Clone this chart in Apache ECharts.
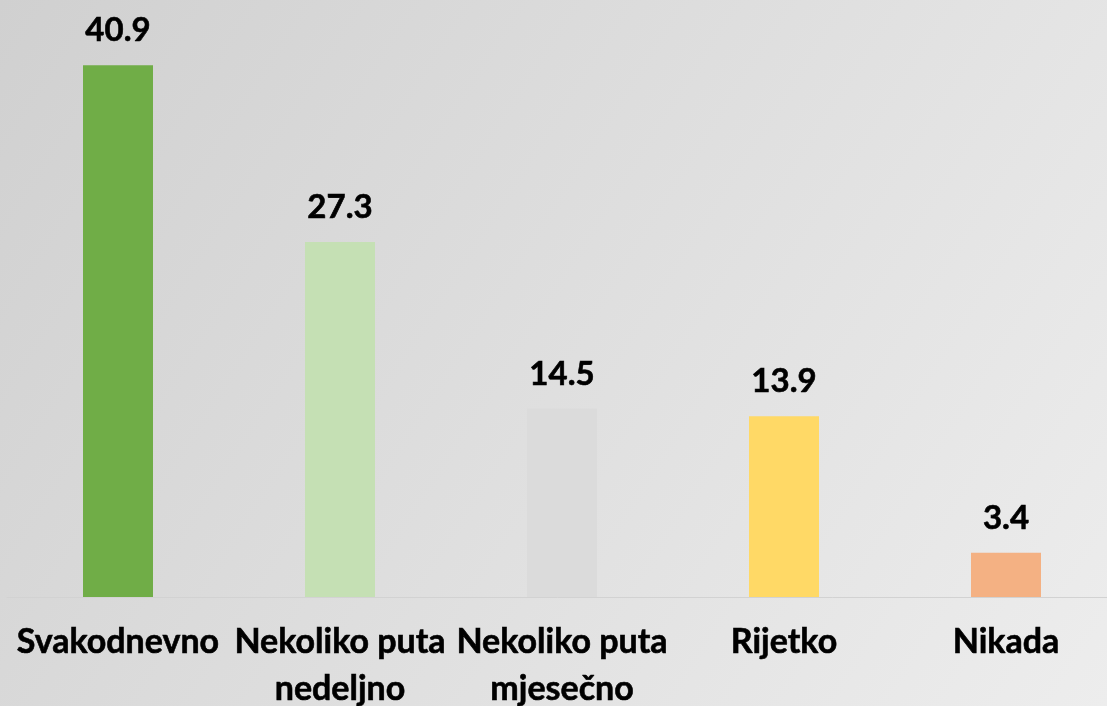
<!DOCTYPE html>
<html>
<head>
<meta charset="utf-8">
<script src="https://cdn.jsdelivr.net/npm/echarts@6/dist/echarts.min.js"></script>
<style>
html, body { margin: 0; padding: 0; }
#chart { width: 1107px; height: 706px; }
</style>
</head>
<body>
<div id="chart"></div>
<script>
var categories = ["Svakodnevno", "Nekoliko puta\nnedeljno", "Nekoliko puta\nmjesečno", "Rijetko", "Nikada"];
var values = [40.9, 27.3, 14.5, 13.9, 3.4];
var barColors = ["#70AD47", "#C5E0B4", "#DBDBDB", "#FFD966", "#F4B183"];

var dom = document.getElementById("chart");
var myChart = echarts.init(dom);
var option = {
    backgroundColor: {
        type: 'linear', x: 0, y: 0, x2: 1, y2: 1,
        colorStops: [
            { offset: 0, color: '#d0d0d0' },
            { offset: 1, color: '#ededed' }
        ]
    },
    animation: false,
    grid: { left: 7, right: -10, top: 12, bottom: 109, containLabel: false, outerBoundsMode: 'none' },
    xAxis: {
        type: 'category',
        data: categories,
        axisLine: { lineStyle: { color: '#d2d2d2', width: 1 } },
        axisTick: { show: false },
        axisLabel: {
            interval: 0,
            margin: 22,
            color: '#000',
            fontFamily: 'Lato',
            fontWeight: 'bold',
            fontSize: 34,
            lineHeight: 47,
            textBorderColor: '#000',
            textBorderWidth: 0.6
        }
    },
    yAxis: {
        type: 'value',
        min: 0,
        max: 45,
        show: false,
        splitLine: { show: false }
    },
    series: [{
        type: 'bar',
        barWidth: 70,
        data: values.map(function (v, i) {
            return { value: v, itemStyle: { color: barColors[i] } };
        }),
        label: {
            show: true,
            position: 'top',
            distance: 18,
            color: '#000',
            fontFamily: 'Lato',
            fontWeight: 'bold',
            fontSize: 33,
            textBorderColor: '#000',
            textBorderWidth: 0.6
        }
    }]
};
myChart.setOption(option);
</script>
</body>
</html>
